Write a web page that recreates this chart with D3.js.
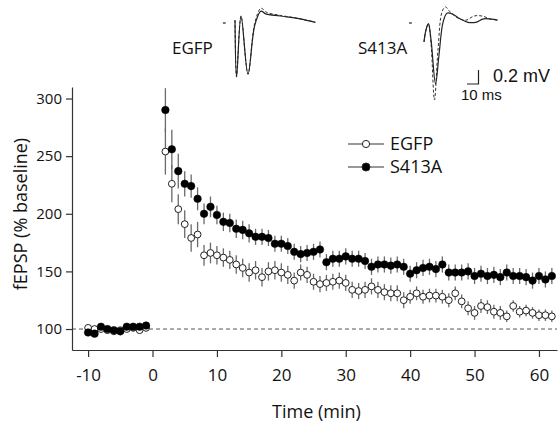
<!DOCTYPE html>
<html><head><meta http-equiv="Content-Type" content="text/html; charset=utf-8">
<script src="https://d3js.org/d3.v7.min.js"></script>
<style>
  body { margin: 0; background: #fff; }
  svg text { font-family: "Open Sans", "DejaVu Sans", sans-serif; fill: #111; }
</style>
</head>
<body>
<div class="chart"></div>
<script type="text/javascript">

// ---------------- DATA ----------------
var baseTime = [-10, -9, -8, -7, -6, -5, -4, -3, -2, -1];
var postTime = [2, 3, 4, 5, 6, 7, 8, 9, 10, 11, 12, 13, 14, 15, 16, 17, 18, 19, 20, 21, 22,
                23, 24, 25, 26, 27, 28, 29, 30, 31, 32, 33, 34, 35, 36, 37, 38, 39, 40, 41, 42,
                43, 44, 45, 46, 47, 48, 49, 50, 51, 52, 53, 54, 55, 56, 57, 58, 59, 60, 61, 62];

var egfpBase = [101, 100, 100, 99, 98, 99, 100, 101, 99, 101];
var s413aBase = [97, 96, 102, 100, 99, 98, 102, 102, 102, 103];
var baseErr = [2, 2, 2, 2, 2, 2, 2, 2, 2, 2];

var egfpPost = [254, 226, 204, 191, 179, 182, 164, 166, 164, 162, 160, 156, 153, 149, 151, 145, 150, 151, 149, 147, 142,
                149, 147, 141, 139, 140, 141, 142, 140, 134, 133, 134, 137, 134, 132, 131, 131, 125, 128, 131, 128,
                129, 129, 128, 125, 131, 124, 118, 114, 120, 119, 115, 114, 111, 120, 115, 116, 114, 112, 112, 111];
var egfpErr = [20, 16, 13, 12, 12, 11, 9, 9, 8, 8, 8, 8, 8, 8, 8, 8, 8, 8, 8, 8, 7,
               7, 7, 7, 7, 7, 7, 7, 7, 7, 7, 7, 7, 7, 7, 7, 7, 7, 6, 6, 6,
               6, 6, 6, 6, 6, 6, 6, 6, 6, 6, 6, 6, 5, 5, 5, 5, 5, 5, 5, 5];

var s413aPost = [290, 256, 237, 226, 224, 213, 200, 206, 199, 193, 192, 187, 186, 183, 180, 180, 179, 174, 174, 172, 167,
                 165, 166, 167, 169, 158, 161, 161, 163, 161, 161, 159, 154, 156, 156, 155, 156, 154, 148, 151, 153,
                 154, 152, 156, 149, 149, 149, 150, 146, 148, 146, 147, 145, 149, 146, 146, 145, 142, 146, 143, 146];
var s413aErr = [19, 17, 15, 11, 10, 10, 9, 9, 8, 8, 8, 8, 8, 8, 7, 7, 7, 7, 7, 7, 7,
                7, 7, 7, 7, 7, 7, 7, 7, 7, 7, 7, 7, 7, 7, 7, 7, 7, 7, 7, 7,
                7, 7, 7, 7, 7, 7, 7, 7, 7, 7, 7, 7, 7, 7, 7, 7, 7, 7, 7, 7];

var xTicks = [-10, 0, 10, 20, 30, 40, 50, 60];
var yTicks = [100, 150, 200, 250, 300];

// example traces: [ms, mV]
var egfpTraceA = [[0, 0.04], [1.4, -0.77], [5.5, 0.10], [11.8, -0.73], [18, -0.03], [23.6, 0.17], [28, 0.13], [41, 0.10], [59, 0.06], [73, 0.01]];
var egfpTraceB = [[0, 0.04], [1.4, -0.77], [5.5, 0.10], [11.8, -0.73], [18, 0.0], [23.6, 0.21], [29, 0.15], [41, 0.11], [59, 0.06], [73, 0.01]];
var s413aTraceA = [[0, -0.27], [1.8, -0.1], [4, -0.01], [6.4, -0.24], [10.5, -0.87], [13.6, -0.46], [17.3, 0.01], [20.9, 0.14], [25.5, 0.13], [32.7, 0.06], [40, 0.01], [47, 0.01], [54.5, 0.06], [67, 0.04]];
var s413aTraceB = [[0, -0.27], [1.8, -0.1], [4, -0.01], [6.4, -0.3], [9.5, -1.1], [12.7, -0.39], [16.4, 0.16], [19.5, 0.23], [23.6, 0.16], [30.9, 0.07], [38, 0.04], [45.5, 0.1], [52.7, 0.1], [60, 0.06], [67, 0.04]];

// ---------------- SETUP ----------------
var width = 558;
var height = 427;

var svg = d3.select("div.chart")
  .append("svg")
  .attr("width", width)
  .attr("height", height);

var x = d3.scaleLinear().domain([-12.5, 62.8]).range([72, 557]);
var y = d3.scaleLinear().domain([81.8, 310]).range([350, 87]);

// dashed baseline
svg.append("line")
  .attr("x1", x(-12.5)).attr("x2", x(62.8))
  .attr("y1", y(100)).attr("y2", y(100))
  .style("stroke", "#555")
  .style("stroke-width", 1)
  .style("stroke-dasharray", "4,3");

// axes
var xAxis = svg.append("g")
  .attr("transform", "translate(0," + y(81.8) + ")")
  .call(d3.axisBottom(x).tickValues(xTicks).tickFormat(function(d) { return d < 0 ? "-" + Math.abs(d) : d; })
    .tickSize(7).tickSizeOuter(0).tickPadding(12));

var yAxis = svg.append("g")
  .attr("transform", "translate(" + x(-12.5) + ",0)")
  .call(d3.axisLeft(y).tickValues(yTicks).tickSize(6).tickSizeOuter(0).tickPadding(4));

svg.selectAll(".domain, .tick line").style("stroke", "#333").style("stroke-width", 1.2);
xAxis.selectAll("text").style("font-size", "17px");
yAxis.selectAll("text").style("font-size", "15px");

svg.append("text")
  .attr("x", (x(-12.5) + x(62.8)) / 2 + 2)
  .attr("y", 418)
  .attr("text-anchor", "middle")
  .style("font-size", "18px")
  .text("Time (min)");

svg.append("text")
  .attr("transform", "translate(27," + 214 + ")rotate(-90)")
  .attr("text-anchor", "middle")
  .style("font-size", "18px")
  .text("fEPSP (% baseline)");

// ---------------- SERIES ----------------
function series(times, vals, errs, filled) {
  var pts = times.map(function(t, i) { return { t: t, v: vals[i], e: errs[i] }; });
  var g = svg.append("g");
  g.selectAll("line")
    .data(pts)
    .enter()
    .append("line")
    .attr("x1", function(d) { return x(d.t); })
    .attr("x2", function(d) { return x(d.t); })
    .attr("y1", function(d) { return y(d.v - d.e); })
    .attr("y2", function(d) { return y(d.v + d.e); })
    .style("stroke", "#6a6a6a")
    .style("stroke-width", 1.3);
  g.selectAll("circle")
    .data(pts)
    .enter()
    .append("circle")
    .attr("cx", function(d) { return x(d.t); })
    .attr("cy", function(d) { return y(d.v); })
    .attr("r", filled ? 3.8 : 3.4)
    .style("fill", filled ? "#000" : "#fff")
    .style("stroke", filled ? "#000" : "#222")
    .style("stroke-width", filled ? 0.5 : 1);
}

series(baseTime, egfpBase, baseErr, false);
series(postTime, egfpPost, egfpErr, false);
series(baseTime, s413aBase, baseErr, true);
series(postTime, s413aPost, s413aErr, true);

// ---------------- LEGEND ----------------
var legend = [{ name: "EGFP", filled: false, yy: 144 }, { name: "S413A", filled: true, yy: 167 }];
var lg = svg.append("g");
lg.selectAll("line")
  .data(legend)
  .enter()
  .append("line")
  .attr("x1", 348).attr("x2", 384)
  .attr("y1", function(d) { return d.yy; })
  .attr("y2", function(d) { return d.yy; })
  .style("stroke", "#333")
  .style("stroke-width", 1.2);
lg.selectAll("circle")
  .data(legend)
  .enter()
  .append("circle")
  .attr("cx", 366)
  .attr("cy", function(d) { return d.yy; })
  .attr("r", function(d) { return d.filled ? 4 : 3.6; })
  .style("fill", function(d) { return d.filled ? "#000" : "#fff"; })
  .style("stroke", "#222")
  .style("stroke-width", 1);
lg.selectAll("text")
  .data(legend)
  .enter()
  .append("text")
  .attr("x", 390)
  .attr("y", function(d) { return d.yy + 6; })
  .style("font-size", "18px")
  .text(function(d) { return d.name; });

// ---------------- TRACES ----------------
function trace(x0, y0, a, b, mark) {
  var tx = d3.scaleLinear().domain([0, 10]).range([x0, x0 + 11]);
  var ty = d3.scaleLinear().domain([0, 0.2]).range([y0, y0 - 14]);
  var line = d3.line()
    .x(function(d) { return tx(d[0]); })
    .y(function(d) { return ty(d[1]); })
    .curve(d3.curveCatmullRom.alpha(0.5));
  svg.append("path").attr("d", line(b))
    .style("fill", "none").style("stroke", "#333").style("stroke-width", 1).style("stroke-dasharray", "3,2");
  svg.append("path").attr("d", line(a))
    .style("fill", "none").style("stroke", "#222").style("stroke-width", 1.2);
  // baseline marker
  svg.append("line")
    .attr("x1", tx(mark)).attr("x2", tx(mark + 2.6))
    .attr("y1", ty(0)).attr("y2", ty(0))
    .style("stroke", "#222").style("stroke-width", 1.2);
}

trace(235, 23, egfpTraceA, egfpTraceB, -11);
trace(424, 23, s413aTraceA, s413aTraceB, -13.6);

svg.append("text").attr("x", 172).attr("y", 54).style("font-size", "17px").text("EGFP");
svg.append("text").attr("x", 358).attr("y", 54).style("font-size", "17px").text("S413A");

// scale bar
svg.append("path")
  .attr("d", "M467,84H478.5V70")
  .style("fill", "none").style("stroke", "#222").style("stroke-width", 1.2);
svg.append("text").attr("x", 493).attr("y", 82).style("font-size", "18px")
  .style("font-family", "'Liberation Sans', sans-serif").text("0.2 mV");
svg.append("text").attr("x", 461).attr("y", 100).style("font-size", "15px")
  .style("font-family", "'Liberation Sans', sans-serif").text("10 ms");

</script>
</body></html>
